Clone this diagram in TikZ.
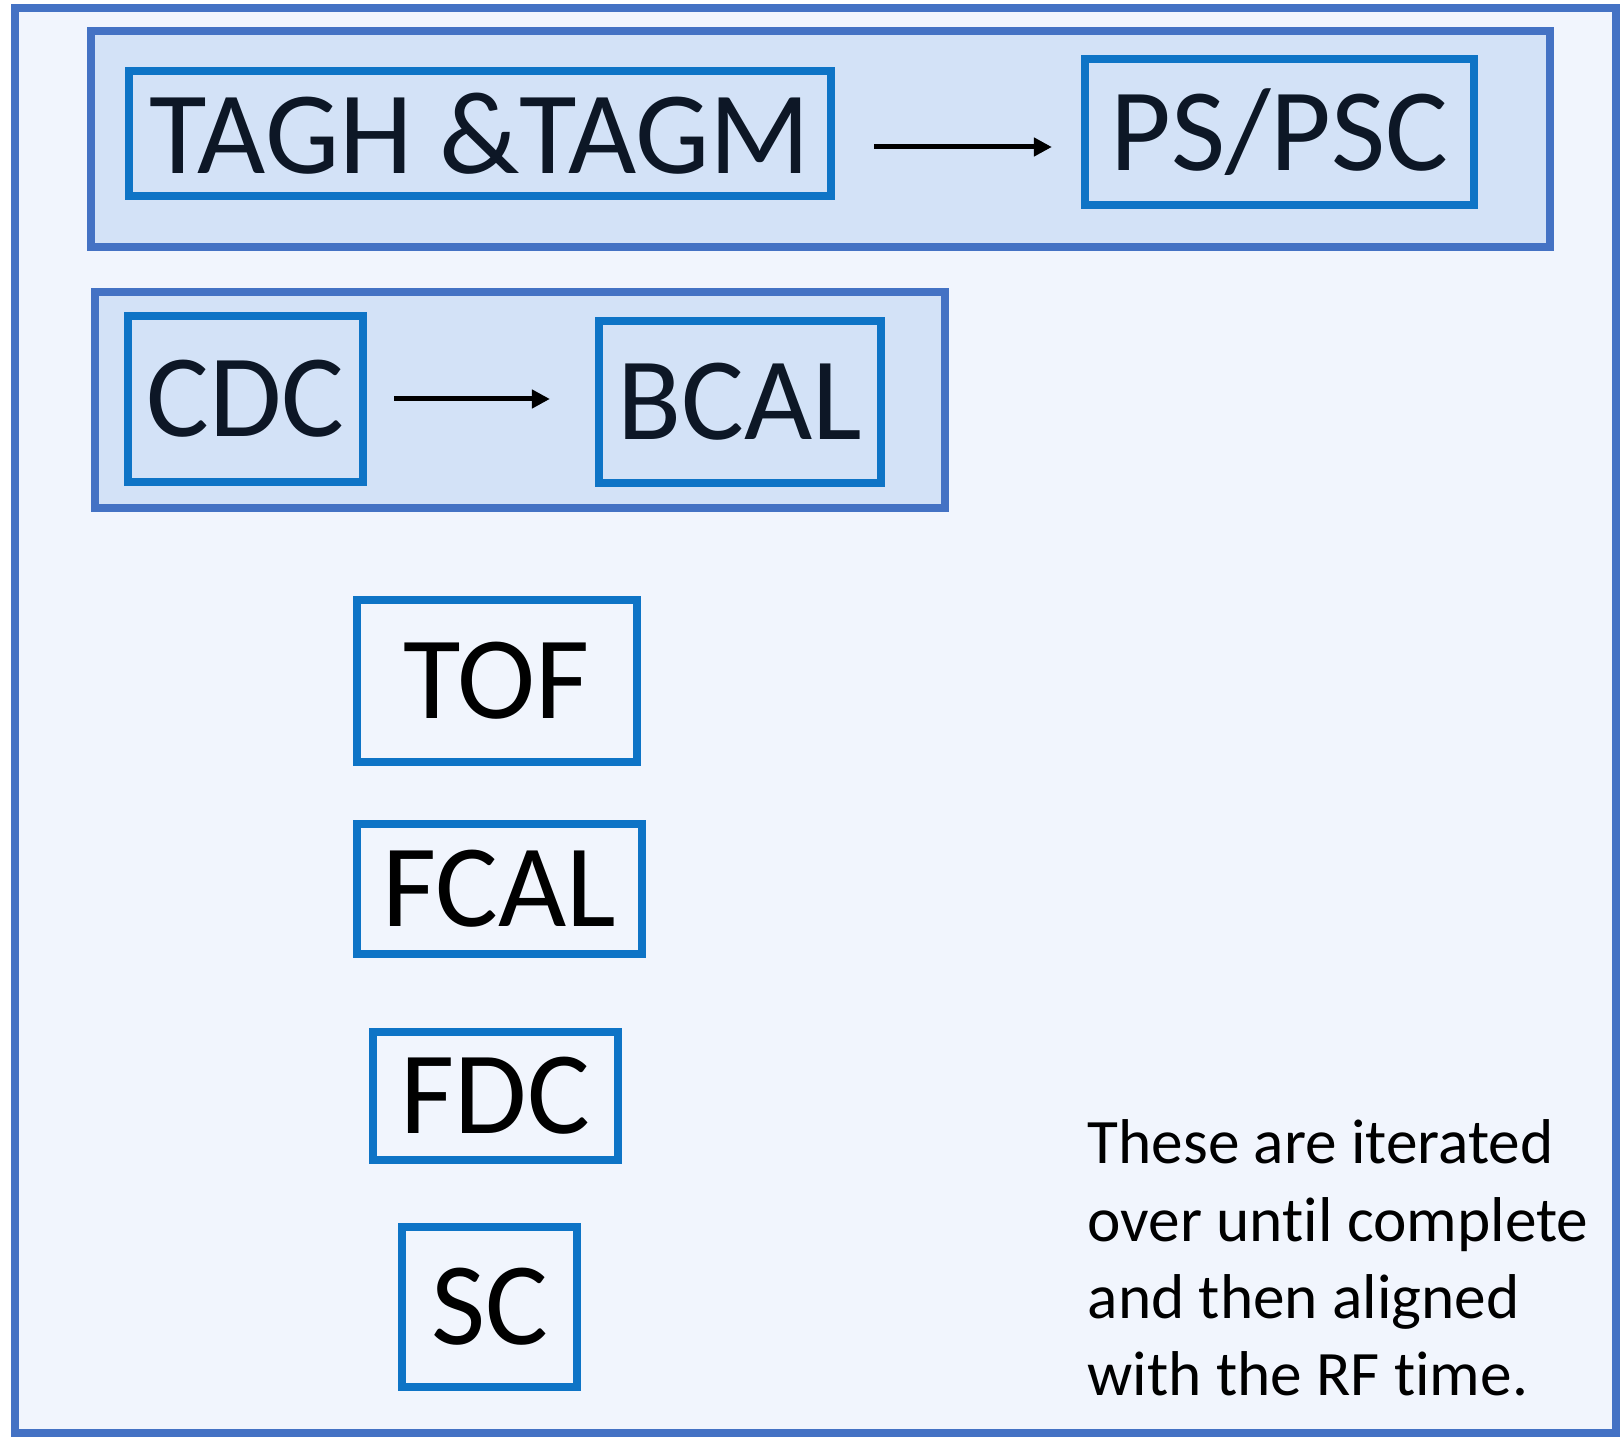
\documentclass[tikz,border=0pt]{standalone}
\usepackage{fontspec}
\setmainfont{Carlito}[Ligatures=NoCommon]
\usetikzlibrary{arrows.meta}
\definecolor{framecol}{HTML}{4472C4}
\definecolor{bgcol}{HTML}{F1F5FD}
\definecolor{grpcol}{HTML}{D3E2F7}
\definecolor{boxcol}{HTML}{0E74C6}
\definecolor{navy}{HTML}{0D1726}
\begin{document}
\begin{tikzpicture}[x=0.01cm,y=-0.01cm,
  group/.style={draw=framecol,fill=grpcol,line width=0.08cm,inner sep=0pt},
  det/.style={draw=boxcol,line width=0.08cm,inner sep=0pt,font=\fontsize{33.5}{40}\selectfont},
  flow/.style={-{Triangle[length=0.18cm,width=0.18cm]},line width=0.05cm}]
\useasboundingbox (0,0) rectangle (1620,1437);
\node[draw=framecol,fill=bgcol,line width=0.08cm,minimum width=16.01cm,minimum height=14.25cm] (frame) at (815.5,720.5) {};

\node[group,minimum width=14.59cm,minimum height=2.16cm] (grpone) at (820.5,139) {};
\node[det,text=navy,minimum width=7.02cm,minimum height=1.25cm] (tagh) at (480,133.5) {TAGH \&TAGM};
\node[det,text=navy,minimum width=3.89cm,minimum height=1.46cm] (pspsc) at (1279.5,132) {PS/PSC};

\node[group,minimum width=8.50cm,minimum height=2.16cm] (grptwo) at (520,400) {};
\node[det,text=navy,minimum width=2.35cm,minimum height=1.66cm] (cdc) at (245.5,399) {CDC};
\node[det,text=navy,minimum width=2.82cm,minimum height=1.62cm] (bcal) at (740,402) {BCAL};

\node[det,minimum width=2.80cm,minimum height=1.62cm] (tof) at (497,681) {TOF};
\node[det,minimum width=2.85cm,minimum height=1.30cm] (fcal) at (499.5,889) {FCAL};
\node[det,minimum width=2.45cm,minimum height=1.28cm] (fdc) at (495.5,1096) {FDC};
\node[det,minimum width=1.75cm,minimum height=1.60cm] (sc) at (489.5,1307) {SC};

\node[anchor=base west,align=left,inner sep=0pt,font=\fontsize{18}{22}\selectfont] (note) at (1087,1396) {These are iterated\\over until complete\\and then aligned\\with the RF time.};

\coordinate (a1) at ([yshift=-0.135cm]tagh.east);
\draw[flow,shorten <=0.39cm,shorten >=0.29cm] (a1) -- (a1 -| pspsc.west);
\draw[flow,shorten <=0.27cm,shorten >=0.45cm] (cdc.east) -- (cdc.east -| bcal.west);
\end{tikzpicture}
\end{document}
